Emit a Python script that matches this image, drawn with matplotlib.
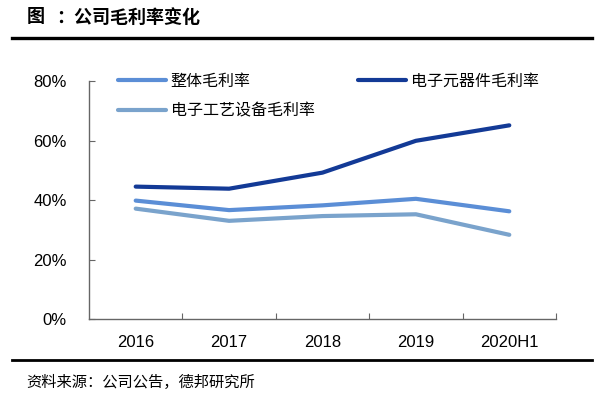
import matplotlib
matplotlib.use("Agg")
import matplotlib.pyplot as plt
from matplotlib.lines import Line2D
from matplotlib.ticker import FuncFormatter

years = ["2016", "2017", "2018", "2019", "2020H1"]
margin_total = [39.9, 36.7, 38.3, 40.5, 36.3]
margin_component = [44.6, 43.9, 49.3, 60.0, 65.2]
margin_equipment = [37.2, 33.1, 34.7, 35.3, 28.4]

name_total = "整体毛利率"
name_component = "电子元器件毛利率"
name_equipment = "电子工艺设备毛利率"

c_total = "#5b8ed6"
c_component = "#133a96"
c_equipment = "#7aa3cc"

cjk = ["Noto Sans CJK SC", "DejaVu Sans"]

fig = plt.figure(figsize=(6.04, 3.96), dpi=100)
ax = fig.add_axes([89 / 604, (396 - 319.3) / 396, (556 - 89) / 604, (319.3 - 81.3) / 396])

x = list(range(len(years)))
lw = 3.0
ax.plot(x, margin_total, color=c_total, lw=lw, solid_capstyle="round")
ax.plot(x, margin_component, color=c_component, lw=lw, solid_capstyle="round")
ax.plot(x, margin_equipment, color=c_equipment, lw=lw, solid_capstyle="round")

ax.set_xlim(-0.5, len(years) - 0.5)
ax.set_ylim(0, 80)
ax.set_yticks([0, 20, 40, 60, 80])
ax.yaxis.set_major_formatter(FuncFormatter(lambda v, p: f"{v:.0f}%"))

# category ticks sit between the labels
ax.set_xticks([i + 0.5 for i in range(len(years) - 1)] + [len(years) - 0.5])
ax.set_xticklabels([])
ax.set_xticks(x, minor=True)
ax.set_xticklabels(years, minor=True, fontfamily="Liberation Sans", fontsize=12)
ax.tick_params(axis="x", which="minor", length=0, pad=11)
ax.tick_params(axis="x", which="major", direction="in", length=4, color="#666666")
ax.tick_params(axis="y", direction="in", length=4, color="#666666", pad=16,
               labelsize=12)
for lab in ax.get_yticklabels():
    lab.set_fontfamily("Liberation Sans")

for s in ["top", "right"]:
    ax.spines[s].set_visible(False)
for s in ["left", "bottom"]:
    ax.spines[s].set_color("#666666")
    ax.spines[s].set_linewidth(1.0)

handles = [
    Line2D([], [], color=c_total, lw=lw, solid_capstyle="round"),
    Line2D([], [], color=c_equipment, lw=lw, solid_capstyle="round"),
    Line2D([], [], color=c_component, lw=lw, solid_capstyle="round"),
]
labels = [name_total, name_equipment, name_component]
fig.legend(handles, labels, loc="upper left", bbox_to_anchor=(118 / 604, 1 - 73 / 396),
           ncol=2, frameon=False, borderpad=0, borderaxespad=0,
           handlelength=3.0, handletextpad=0.3, columnspacing=2.7, labelspacing=0.8,
           prop={"family": cjk, "size": 11.5})

fig.text(27 / 604, 1 - 17 / 396, "图", fontfamily=cjk, fontsize=13,
         fontweight="bold", va="center", ha="left")
fig.text(56 / 604, 1 - 17 / 396, "：公司毛利率变化", fontfamily=cjk, fontsize=13,
         fontweight="bold", va="center", ha="left")
fig.add_artist(Line2D([12 / 604, 592 / 604], [1 - 37.5 / 396, 1 - 37.5 / 396],
                      color="black", lw=2.4, transform=fig.transFigure))
fig.add_artist(Line2D([12 / 604, 592 / 604], [1 - 359.5 / 396, 1 - 359.5 / 396],
                      color="black", lw=2.0, transform=fig.transFigure))
fig.text(26 / 604, 1 - 382 / 396, "资料来源：公司公告，德邦研究所", fontfamily=cjk,
         fontsize=11, va="center", ha="left")

fig.savefig("out.png", dpi=100)
